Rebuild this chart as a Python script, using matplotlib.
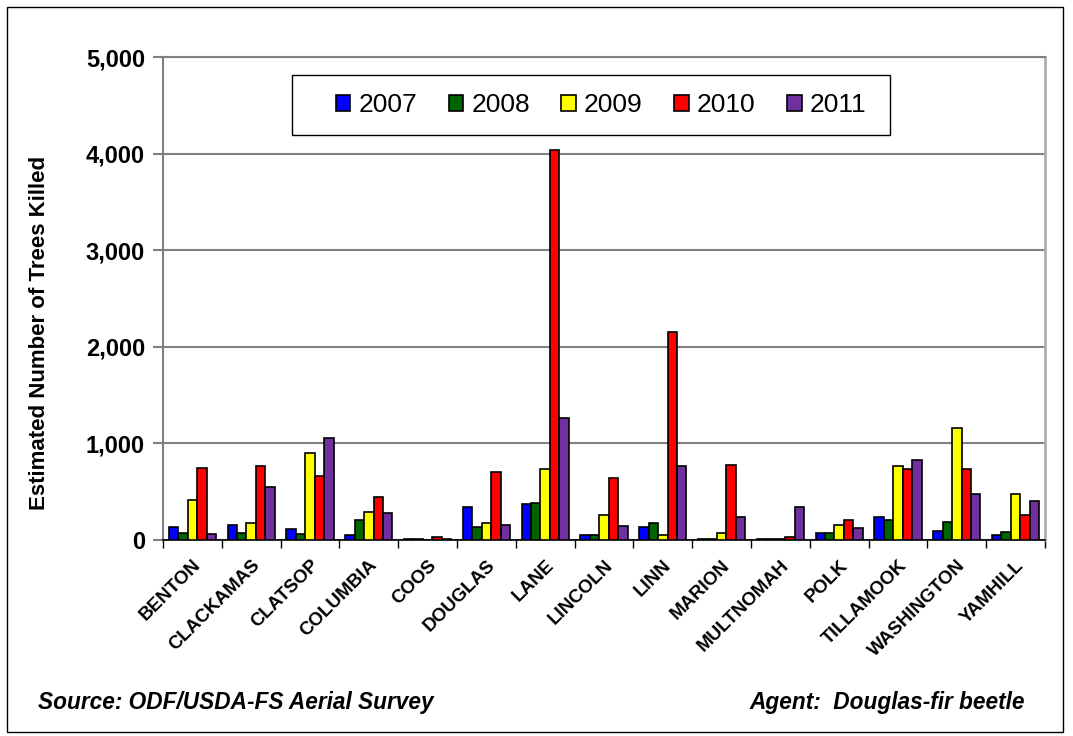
import matplotlib.pyplot as plt
import numpy as np
from matplotlib.patches import Rectangle

plt.rcParams['font.family'] = ['Liberation Sans', 'DejaVu Sans']

counties = ["BENTON", "CLACKAMAS", "CLATSOP", "COLUMBIA", "COOS", "DOUGLAS", "LANE",
            "LINCOLN", "LINN", "MARION", "MULTNOMAH", "POLK", "TILLAMOOK", "WASHINGTON", "YAMHILL"]
years = ["2007", "2008", "2009", "2010", "2011"]

y2007 = [136, 160, 111, 49, 10, 338, 376, 49, 136, 10, 10, 73, 237, 97, 49]
y2008 = [73, 73, 59, 212, 10, 136, 386, 49, 174, 10, 10, 73, 212, 188, 87]
y2009 = [411, 174, 901, 285, 5, 174, 738, 261, 49, 73, 10, 160, 762, 1162, 473]
y2010 = [748, 762, 661, 449, 35, 703, 4040, 637, 2150, 773, 35, 212, 738, 738, 261]
y2011 = [59, 550, 1061, 275, 10, 160, 1263, 146, 762, 237, 338, 125, 825, 473, 400]

colors = ["#0000ff", "#006400", "#ffff00", "#ff0000", "#7030a0"]

fig = plt.figure(figsize=(10.73, 7.36), dpi=100)
fig.patches.append(Rectangle((7 / 1073, 4 / 736), 1056 / 1073, 725 / 736, transform=fig.transFigure,
                             fill=False, edgecolor="black", linewidth=1))
ax = fig.add_axes([163 / 1073, 196 / 736, 882 / 1073, 483 / 736])

x = np.arange(len(counties))
w = 0.16
for i, (vals, c) in enumerate(zip([y2007, y2008, y2009, y2010, y2011], colors)):
    ax.bar(x + (i - 2) * w, vals, w, color=c, edgecolor="black", linewidth=1.2,
           label=years[i], zorder=3)

ax.set_xlim(-0.5, len(counties) - 0.5)
ax.set_ylim(0, 5000)
ax.set_yticks(range(0, 5001, 1000))
ax.set_yticklabels([f"{v:,}" for v in range(0, 5001, 1000)], fontsize=17, fontweight="bold")
ax.yaxis.grid(True, color="#808080", linewidth=1.5, zorder=0)
ax.tick_params(axis="y", length=7, color="#808080", width=1.5, pad=6)

ax.set_xticks(x)
ax.set_xticklabels(counties, rotation=45, ha="right", rotation_mode="anchor",
                   fontsize=13.5, fontweight="bold")
ax.tick_params(axis="x", which="major", length=0, pad=12)
ax.set_xticks(np.arange(-0.5, len(counties), 1), minor=True)
ax.tick_params(axis="x", which="minor", length=6, color="black", width=1)

for s in ["left", "top"]:
    ax.spines[s].set_color("#808080")
    ax.spines[s].set_linewidth(1.5)
ax.spines["right"].set_color("#b0b0b0")
ax.spines["right"].set_linewidth(2)
ax.spines["bottom"].set_color("black")
ax.spines["bottom"].set_linewidth(1.2)

fig.text(40 / 1073, 1 - 333 / 736, "Estimated Number of Trees Killed", fontsize=16,
         fontweight="bold", rotation=90, va="center", ha="center")

# legend box drawn separately so its size matches the original
fig.patches.append(Rectangle((292 / 1073, 1 - 135 / 736), 598 / 1073, 60 / 736,
                             transform=fig.transFigure, fill=False, edgecolor="black", linewidth=1,
                             zorder=5))
leg = fig.legend(*ax.get_legend_handles_labels(), ncol=5, loc="center",
                 bbox_to_anchor=(601 / 1073, 1 - 105 / 736), fontsize=19, frameon=False,
                 handlelength=0.55, handleheight=0.55, handletextpad=0.3, columnspacing=1.2)

fig.text(38 / 1073, 1 - 703 / 736, "Source: ODF/USDA-FS Aerial Survey", fontsize=16.3,
         fontweight="bold", style="italic", va="center", ha="left")
fig.text(1025 / 1073, 1 - 703 / 736, "Agent:  Douglas-fir beetle", fontsize=16.3,
         fontweight="bold", style="italic", va="center", ha="right")

fig.savefig("out.png", dpi=100)
